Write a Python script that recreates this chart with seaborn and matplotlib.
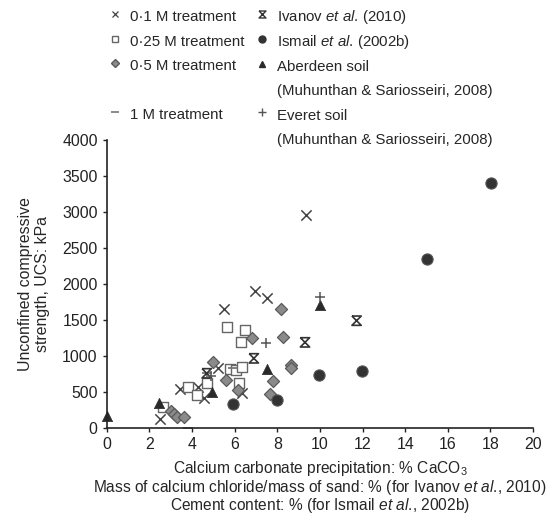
import matplotlib
matplotlib.use('Agg')
import matplotlib.pyplot as plt
from matplotlib.lines import Line2D
import seaborn as sns

# 0.1 M treatment
x_01m = [2.5, 3.44, 4.3, 4.56, 5.23, 5.5, 6.33, 6.95, 7.53, 9.34]
y_01m = [121, 538, 565, 412, 829, 1649, 482, 1907, 1801, 2958]
# 0.25 M treatment
x_025m = [2.65, 3.83, 4.25, 4.72, 5.63, 5.78, 6.06, 6.33, 6.22, 6.48, 6.28]
y_025m = [288, 574, 458, 621, 1407, 815, 806, 851, 621, 1361, 1199]
# 0.5 M treatment
x_05m = [3.0, 3.15, 3.31, 3.62, 4.97, 5.59, 6.17, 6.83, 8.16, 8.25, 8.64, 8.65, 7.78, 7.66]
y_05m = [230, 190, 157, 157, 917, 667, 528, 1254, 1649, 1260, 880, 830, 657, 472]
# 1 M treatment
x_1m = [3.8, 4.7, 5.9]
y_1m = [0, 770, 830]
# Ivanov et al. (2010)
x_ivanov = [4.69, 6.9, 9.3, 11.72]
y_ivanov = [760, 968, 1190, 1491]
# Ismail et al. (2002b)
x_ismail = [5.94, 7.97, 9.97, 11.98, 15.0, 18.02]
y_ismail = [329, 389, 736, 796, 2343, 3399]
# Aberdeen soil
x_aberdeen = [0, 2.47, 4.95, 7.5, 10.0]
y_aberdeen = [170, 351, 500, 815, 1708]
# Everet soil
x_everet = [4.9, 7.47, 10.0]
y_everet = [720, 1176, 1824]

x_ticks = list(range(0, 21, 2))
y_ticks = list(range(0, 4001, 500))

sns.set_style('ticks')
plt.rcParams['font.family'] = ['Liberation Sans', 'DejaVu Sans']
plt.rcParams['mathtext.fontset'] = 'custom'
plt.rcParams['mathtext.rm'] = 'Liberation Sans'
plt.rcParams['mathtext.it'] = 'Liberation Sans:italic'
plt.rcParams['font.size'] = 11.2

# x with short bars top and bottom (Ivanov marker)
hourglass = [(-1, 1), (1, 1), (-1, -1), (1, -1), (-1, 1)]
dark = '#333333'

fig = plt.figure(figsize=(5.53, 5.16), dpi=100)
ax = fig.add_axes([0.193, 0.1705, 0.771, 0.558])

sns.scatterplot(x=x_01m, y=y_01m, marker='x', s=55, color='#444444', linewidth=1.1, ax=ax, clip_on=False)
sns.scatterplot(x=x_025m, y=y_025m, marker='s', s=45, color='#666666', facecolor='white',
                edgecolor='#666666', linewidth=1.0, ax=ax, clip_on=False)
sns.scatterplot(x=x_05m, y=y_05m, marker='D', s=38, color='#8a8a8a', edgecolor='#5a5a5a',
                linewidth=0.9, ax=ax, clip_on=False)
sns.scatterplot(x=x_1m, y=y_1m, marker='_', s=50, color='#777777', linewidth=1.3, ax=ax, clip_on=False)
sns.scatterplot(x=x_ivanov, y=y_ivanov, marker=hourglass, s=45, color=dark, facecolor='none',
                edgecolor=dark, linewidth=1.2, ax=ax, clip_on=False)
sns.scatterplot(x=x_ismail, y=y_ismail, marker='o', s=65, color=dark, edgecolor='#555555',
                linewidth=0.8, ax=ax, clip_on=False)
sns.scatterplot(x=x_aberdeen, y=y_aberdeen, marker='^', s=55, color='#2a2a2a', edgecolor='#2a2a2a',
                linewidth=0.5, ax=ax, clip_on=False)
sns.scatterplot(x=x_everet, y=y_everet, marker='+', s=60, color='#555555', linewidth=1.1, ax=ax, clip_on=False)

ax.set_xlim(0, 20)
ax.set_ylim(0, 4000)
ax.set_xticks(x_ticks)
ax.set_yticks(y_ticks)
sns.despine(ax=ax)
for sp in ax.spines.values():
    sp.set_linewidth(1.2)
    sp.set_color('#222222')
ax.tick_params(axis='both', direction='out', length=3, width=1, pad=3.5, labelsize=11.4, colors='#222222')

ax.set_xlabel('Calcium carbonate precipitation: % CaCO$_3$\n'
              'Mass of calcium chloride/mass of sand: % (for Ivanov $\\mathit{et\\ al}$., 2010)\n'
              'Cement content: % (for Ismail $\\mathit{et\\ al}$., 2002b)',
              fontsize=11.2, labelpad=5, linespacing=0.98)
ax.set_ylabel('Unconfined compressive\nstrength, UCS: kPa', fontsize=11.4, labelpad=9, linespacing=1.15)

blank = Line2D([], [], linestyle='none', marker=None)
handles = [
    Line2D([], [], linestyle='none', marker='x', color='#444444', markersize=5, markeredgewidth=0.9),
    Line2D([], [], linestyle='none', marker='s', color='#666666', markerfacecolor='white', markersize=5),
    Line2D([], [], linestyle='none', marker='D', color='#5a5a5a', markerfacecolor='#8a8a8a', markersize=4),
    blank,
    Line2D([], [], linestyle='none', marker='_', color='#777777', markersize=6, markeredgewidth=1.2),
    blank,
    Line2D([], [], linestyle='none', marker=hourglass, color=dark, markerfacecolor='none', markersize=5),
    Line2D([], [], linestyle='none', marker='o', color=dark, markersize=5),
    Line2D([], [], linestyle='none', marker='^', color='#2a2a2a', markersize=5),
    blank,
    Line2D([], [], linestyle='none', marker='+', color='#555555', markersize=6),
    blank,
]
labels = [
    '0·1 M treatment', '0·25 M treatment', '0·5 M treatment', '', '1 M treatment', '',
    'Ivanov $\\mathit{et\\ al}$. (2010)', 'Ismail $\\mathit{et\\ al}$. (2002b)', 'Aberdeen soil',
    '(Muhunthan & Sariosseiri, 2008)', 'Everet soil', '(Muhunthan & Sariosseiri, 2008)',
]
# tall handle boxes keep every row the same height in both columns
fig.legend(handles, labels, ncol=2, loc='upper left', bbox_to_anchor=(0.178, 1.004),
           frameon=False, fontsize=10.8, handlelength=1.0, handleheight=1.6, handletextpad=0.5,
           columnspacing=0.65, labelspacing=0.34, borderpad=0.1)

fig.savefig('out.png', dpi=100)
